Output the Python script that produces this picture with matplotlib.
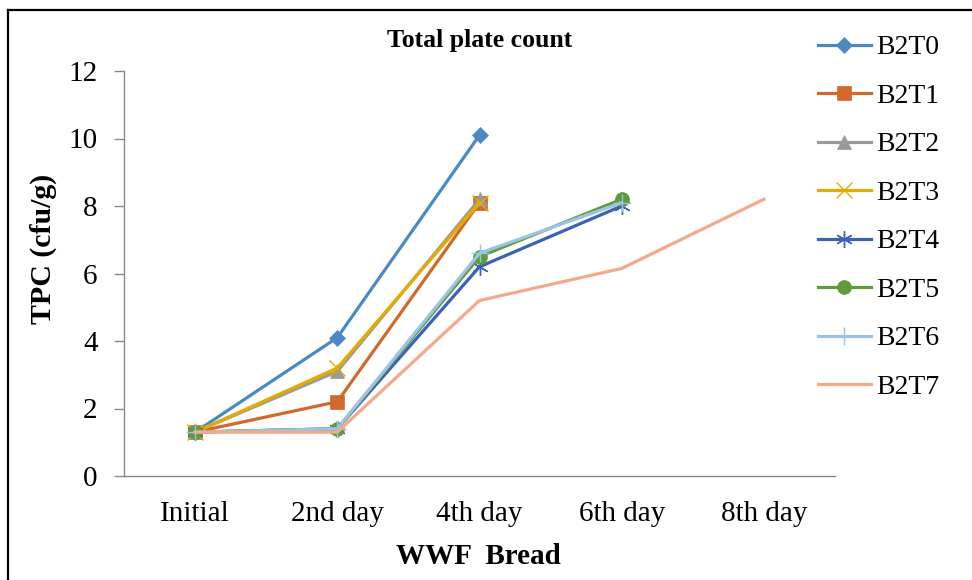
import numpy as np
import matplotlib
matplotlib.use("Agg")
import matplotlib.pyplot as plt
from matplotlib.lines import Line2D

plt.rcParams['font.family'] = ['Liberation Serif', 'DejaVu Serif']

categories = ["Initial", "2nd day", "4th day", "6th day", "8th day"]
series_names = ["B2T0", "B2T1", "B2T2", "B2T3", "B2T4", "B2T5", "B2T6", "B2T7"]
nan = np.nan
B2T0 = [1.3, 4.1, 10.1, nan, nan]
B2T1 = [1.3, 2.2, 8.1, nan, nan]
B2T2 = [1.3, 3.1, 8.2, nan, nan]
B2T3 = [1.3, 3.2, 8.1, nan, nan]
B2T4 = [1.3, 1.4, 6.2, 8.0, nan]
B2T5 = [1.3, 1.4, 6.5, 8.2, nan]
B2T6 = [1.3, 1.4, 6.6, 8.1, nan]
B2T7 = [1.3, 1.3, 5.2, 6.15, 8.2]
yticks = [0, 2, 4, 6, 8, 10, 12]

values = [B2T0, B2T1, B2T2, B2T3, B2T4, B2T5, B2T6, B2T7]
colors = ['#4A89C2', '#D2692A', '#9A9A9A', '#E5AC00', '#3B62B5', '#5E9C3B', '#9CC2E5', '#F4A98A']
markers = ['D', 's', '^', 'x', (6, 2, 0), 'o', '+', None]
msizes = [8, 10, 10, 11, 12, 10, 13, 0]

fig = plt.figure(figsize=(9.72, 5.8), dpi=100)
ax = fig.add_axes([124/972, 1-476/580, (835-124)/972, (476-71)/580])

x = np.arange(len(categories))
handles = []
for name, vals, c, m, ms in zip(series_names, values, colors, markers, msizes):
    kw = dict(color=c, lw=2.3, label=name)
    if m is not None:
        kw.update(marker=m, markersize=ms, markerfacecolor=c, markeredgecolor=c,
                  markeredgewidth=1.0 if m in ('x', '+', (6, 2, 0)) else 0.5)
    h, = ax.plot(x, vals, **kw)
    handles.append(h)

ax.set_xlim(-0.5, len(categories) - 0.5)
ax.set_ylim(0, 12)
ax.set_yticks(yticks)
ax.set_xticks(x)
ax.set_xticklabels(categories, fontsize=21)
ax.tick_params(axis='y', labelsize=21, direction='out', length=7, width=1, color='#898989', pad=12)
ax.tick_params(axis='x', length=0, pad=18)
for s in ['top', 'right']:
    ax.spines[s].set_visible(False)
for s in ['left', 'bottom']:
    ax.spines[s].set_color('#898989')
    ax.spines[s].set_linewidth(1.0)

fig.text(480/972, 1-40/580, "Total plate count", fontsize=18.5, fontweight='bold', ha='center', va='center')
fig.text(478/972, 1-556/580, "WWF  Bread", fontsize=21, fontweight='bold', ha='center', va='center')
fig.text(43/972, 1-249/580, "TPC (cfu/g)", fontsize=21.5, fontweight='bold', ha='center', va='center', rotation=90)

leg = fig.legend(handles=handles, loc='upper left', bbox_to_anchor=(818/972, 1-35/580),
                 frameon=False, fontsize=20, handlelength=1.9, handletextpad=0.2,
                 labelspacing=0.83, borderaxespad=0, borderpad=0)

fig.add_artist(Line2D([8/972, 1.0], [1-10/580, 1-10/580], transform=fig.transFigure, color='black', lw=1.6))
fig.add_artist(Line2D([8/972, 8/972], [0.0, 1-10/580], transform=fig.transFigure, color='black', lw=1.6))

fig.savefig("out.png", dpi=100)
